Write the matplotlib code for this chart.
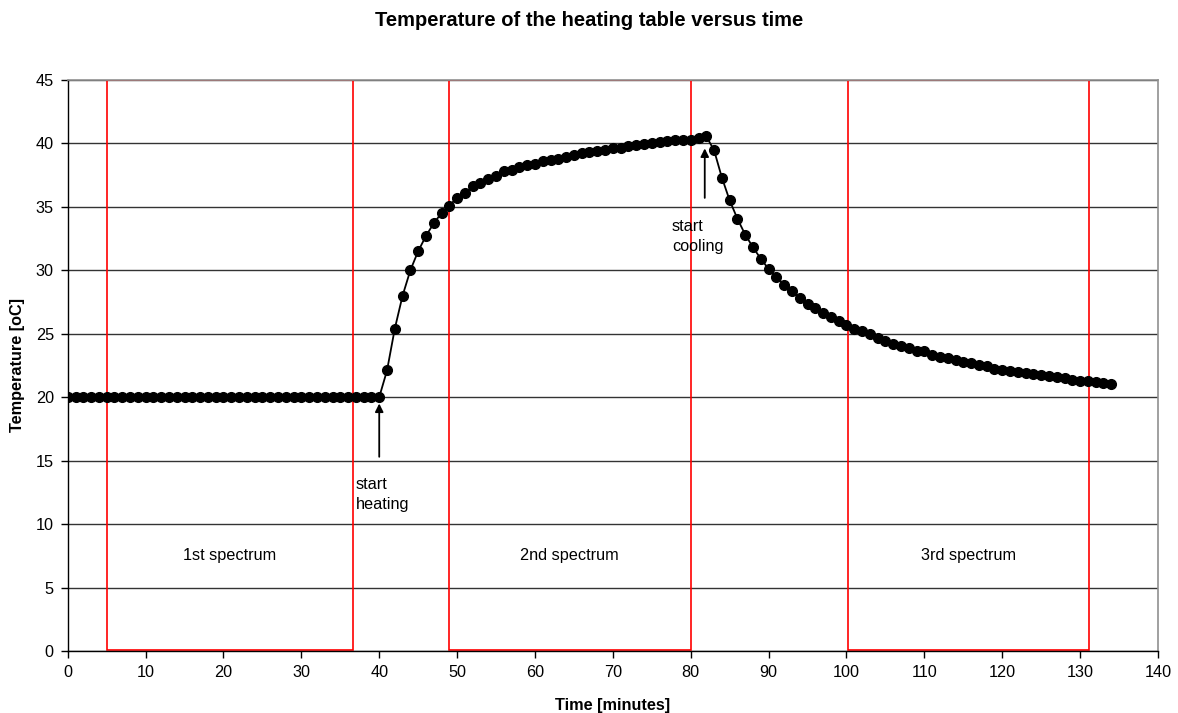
import numpy as np
import matplotlib
matplotlib.use("Agg")
import matplotlib.pyplot as plt
from matplotlib.patches import Rectangle

plt.rcParams['font.family'] = ['Liberation Sans', 'DejaVu Sans']

# time in minutes, one reading per minute
minutes = list(range(0, 135))

# temperature readings [oC]
temp_flat = [20.0] * 41  # 0..40
temp_heating = [22.1, 25.4, 28.0, 30.0, 31.5, 32.7, 33.7, 34.5, 35.1, 35.7,   # 41..50
                36.1, 36.6, 36.9, 37.2, 37.4, 37.8, 37.9, 38.1, 38.3, 38.4,   # 51..60
                38.6, 38.7, 38.8, 38.95, 39.1, 39.2, 39.3, 39.4, 39.5, 39.6,  # 61..70
                39.66, 39.8, 39.87, 39.97, 40.05, 40.1, 40.2, 40.26, 40.26, 40.26,  # 71..80
                40.4, 40.55]  # 81..82
temp_cooling = [39.45, 37.3, 35.5, 34.05, 32.8, 31.8, 30.9, 30.1,  # 83..90
                29.45, 28.87, 28.34, 27.8, 27.34, 27.0, 26.6, 26.3, 26.0, 25.7,  # 91..100
                25.4, 25.18, 25.0, 24.66, 24.42, 24.2, 24.03, 23.84, 23.66, 23.62,  # 101..110
                23.34, 23.16, 23.08, 22.95, 22.76, 22.66, 22.53, 22.42, 22.24, 22.16,  # 111..120
                22.03, 21.97, 21.9, 21.8, 21.74, 21.63, 21.58, 21.5, 21.37, 21.3,  # 121..130
                21.26, 21.18, 21.08, 21.0]  # 131..134
temperature = temp_flat + temp_heating + temp_cooling

# measurement windows (start, end) in minutes
spectra = ["1st spectrum", "2nd spectrum", "3rd spectrum"]
spectrum_start = [5.1, 48.9, 100.2]
spectrum_end = [36.6, 80.0, 131.2]

fs = 11.7

fig = plt.figure(figsize=(11.78, 7.13), dpi=100)
ax = fig.add_axes([0.0575, 0.087, 0.9255, 0.801])

ax.set_xlim(0, 140)
ax.set_ylim(0, 45)
ax.set_xticks(np.arange(0, 141, 10))
ax.set_yticks(np.arange(0, 46, 5))
ax.yaxis.grid(True, color='#333333', linewidth=1.0)
ax.set_axisbelow(True)

for s in ['top', 'right']:
    ax.spines[s].set_color('#909090')
    ax.spines[s].set_linewidth(1.2)
for s in ['left', 'bottom']:
    ax.spines[s].set_color('black')
    ax.spines[s].set_linewidth(1.0)
ax.tick_params(direction='out', length=5, width=1, labelsize=fs, pad=5)

# spectrum windows
for name, x0, x1 in zip(spectra, spectrum_start, spectrum_end):
    ax.add_patch(Rectangle((x0, 0.1), x1 - x0, 44.9, fill=False,
                           edgecolor='red', linewidth=1.2, zorder=2))
    ax.text((x0 + x1) / 2, 7.5, name, ha='center', va='center', fontsize=fs)

ax.plot(minutes, temperature, color='black', linewidth=1.3, marker='o',
        markersize=7, zorder=3)

# annotations
ax.annotate('', xy=(40, 19.5), xytext=(40, 15.3),
            arrowprops=dict(arrowstyle='-|>', color='black', lw=1.3,
                            mutation_scale=12, shrinkA=0, shrinkB=0))
ax.text(37.0, 13.7, 'start\nheating', ha='left', va='top', fontsize=fs,
        linespacing=1.4)
ax.annotate('', xy=(81.8, 39.6), xytext=(81.8, 35.7),
            arrowprops=dict(arrowstyle='-|>', color='black', lw=1.3,
                            mutation_scale=12, shrinkA=0, shrinkB=0))
ax.text(77.6, 34.0, 'start\ncooling', ha='left', va='top', fontsize=fs,
        linespacing=1.4)

ax.set_xlabel('Time [minutes]', fontweight='bold', fontsize=fs, labelpad=13)
ax.set_ylabel('Temperature [oC]', fontweight='bold', fontsize=fs, labelpad=8)
fig.suptitle('Temperature of the heating table versus time', fontweight='bold',
             fontsize=14.5, y=0.971, va='center')

fig.savefig('out.png', dpi=100)
